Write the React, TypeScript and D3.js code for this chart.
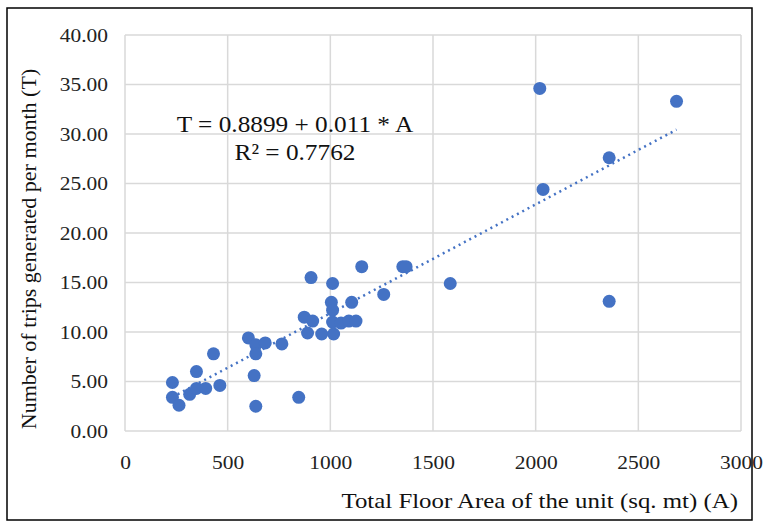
import React, { useEffect, useRef } from "react";
import * as d3 from "d3";

// floor area (sq. mt) and trips per month
const floorArea = [
  231, 231, 263, 315, 348, 348, 393, 431, 462, 601, 637, 637, 683, 629, 637,
  764, 846, 873, 889, 906, 914, 958, 1005, 1011, 1011, 1011, 1016, 1052, 1090,
  1104, 1125, 1153, 1260, 1353, 1369, 1584, 2020, 2036, 2358, 2358, 2686,
];
const trips = [
  4.9, 3.4, 2.6, 3.7, 6.0, 4.3, 4.3, 7.8, 4.6, 9.4, 8.7, 7.8, 8.9, 5.6, 2.5,
  8.8, 3.4, 11.5, 9.9, 15.5, 11.1, 9.8, 13.0, 14.9, 12.2, 11.0, 9.8, 10.9, 11.1,
  13.0, 11.1, 16.6, 13.8, 16.6, 16.6, 14.9, 34.6, 24.4, 27.6, 13.1, 33.3,
];
const xTicks = [0, 500, 1000, 1500, 2000, 2500, 3000];
const yTicks = [0, 5, 10, 15, 20, 25, 30, 35, 40];
const intercept = 0.8899;
const slope = 0.011;

function App() {
  const chartRef = useRef<SVGSVGElement>(null);

  useEffect(() => {
    const svg = d3.select(chartRef.current);
    svg.selectAll("*").remove();

    const width = 766;
    const height = 524;
    const serif = "Liberation Serif";
    const blue = "#4472C4";
    // the source picture is a little stretched sideways
    const stretch = 1.13;

    const x = d3.scaleLinear().domain([0, 3000]).range([125, 741]);
    const y = d3.scaleLinear().domain([0, 40]).range([431, 35]);

    svg
      .attr("width", width)
      .attr("height", height)
      .style("font-family", serif);

    // white background + outer frame
    svg
      .append("rect")
      .attr("width", width)
      .attr("height", height)
      .attr("fill", "#fff");
    svg
      .append("rect")
      .attr("x", 7)
      .attr("y", 8)
      .attr("width", 745)
      .attr("height", 512)
      .attr("fill", "none")
      .attr("stroke", "#000")
      .attr("stroke-width", 1.5);

    // gridlines
    const grid = svg.append("g").attr("stroke", "#d9d9d9").attr("stroke-width", 1.5);
    grid
      .selectAll("line.h")
      .data(yTicks)
      .join("line")
      .attr("x1", x(0))
      .attr("x2", x(3000))
      .attr("y1", d => y(d))
      .attr("y2", d => y(d));
    grid
      .selectAll("line.v")
      .data(xTicks)
      .join("line")
      .attr("x1", d => x(d))
      .attr("x2", d => x(d))
      .attr("y1", y(0))
      .attr("y2", y(40));

    // axes (labels only)
    svg
      .append("g")
      .attr("transform", `translate(0,${y(0)})`)
      .call(d3.axisBottom(x).tickValues(xTicks).tickSize(0).tickPadding(25).tickFormat(d3.format("d")))
      .call(g => g.select(".domain").remove())
      .call(g => g.attr("font-family", null).attr("font-size", null))
      .selectAll("text")
      .attr("transform", `scale(${stretch},1)`)
      .style("font-family", serif)
      .style("font-size", "19px")
      .attr("fill", "#222");

    svg
      .append("g")
      .attr("transform", `translate(${x(0)},0)`)
      .call(d3.axisLeft(y).tickValues(yTicks).tickSize(0).tickFormat(d3.format(".2f")))
      .call(g => g.select(".domain").remove())
      .call(g => g.attr("font-family", null).attr("font-size", null))
      .selectAll("text")
      .attr("x", -17 / stretch)
      .attr("transform", `scale(${stretch},1)`)
      .style("font-family", serif)
      .style("font-size", "19px")
      .attr("fill", "#222");

    // trendline
    const [aMin, aMax] = d3.extent(floorArea) as [number, number];
    svg
      .append("line")
      .attr("x1", x(aMin))
      .attr("y1", y(intercept + slope * aMin))
      .attr("x2", x(aMax))
      .attr("y2", y(intercept + slope * aMax))
      .attr("stroke", blue)
      .attr("stroke-width", 2.5)
      .attr("stroke-dasharray", "2 4");

    // points
    svg
      .append("g")
      .attr("fill", blue)
      .selectAll("circle")
      .data(floorArea)
      .join("circle")
      .attr("cx", d => x(d))
      .attr("cy", (d, i) => y(trips[i]))
      .attr("r", 6.5);

    // equation
    const eq = svg
      .append("text")
      .attr("transform", `translate(295,0) scale(1.1,1)`)
      .style("font-family", serif)
      .style("font-size", "23px")
      .attr("fill", "#111")
      .attr("text-anchor", "middle");
    eq.append("tspan").attr("x", 0).attr("y", 132).text(`T = ${intercept} + ${slope} * A`);
    eq.append("tspan").attr("x", 0).attr("y", 160).text("R² = 0.7762");

    // axis titles
    svg
      .append("text")
      .attr("transform", `translate(738,508) scale(${stretch},1)`)
      .attr("text-anchor", "end")
      .style("font-family", serif)
      .style("font-size", "22px")
      .attr("fill", "#111")
      .text("Total Floor Area of the unit (sq. mt) (A)");

    svg
      .append("text")
      .attr("transform", "translate(36,249) rotate(-90)")
      .attr("text-anchor", "middle")
      .style("font-family", serif)
      .style("font-size", "22px")
      .attr("fill", "#111")
      .text("Number of trips generated per month (T)");
  }, []);

  return (
    <svg
      ref={chartRef}
      style={{ position: "absolute", left: 0, top: 0, display: "block" }}
    ></svg>
  );
}

export default App;
